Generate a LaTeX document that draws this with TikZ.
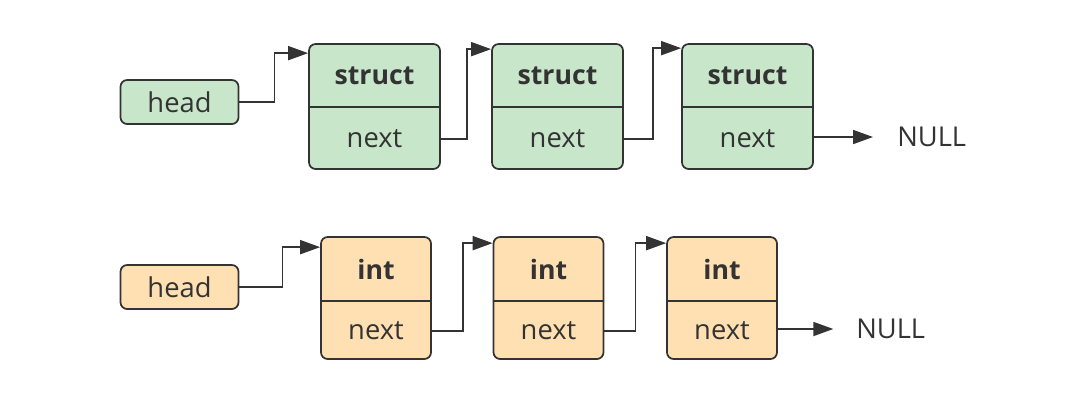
\documentclass[tikz,border=0pt]{standalone}
\usepackage{fontspec}
\setmainfont{Open Sans}
\usetikzlibrary{arrows.meta,calc}
\definecolor{ink}{HTML}{333333}
\definecolor{gfill}{HTML}{C8E6C9}
\definecolor{ofill}{HTML}{FFE0B2}
\begin{document}
\begin{tikzpicture}[x=0.75pt,y=-0.75pt,
  box/.style={draw=ink,line width=1.3pt,rounded corners=5pt,inner sep=0pt},
  headbox/.style={box,minimum width=88.5pt,minimum height=33pt},
  sbox/.style={box,fill=gfill,minimum width=98.25pt,minimum height=93.75pt},
  ibox/.style={box,fill=ofill,minimum width=82.5pt,minimum height=91.5pt},
  lbl/.style={text=ink,font=\fontsize{20.5pt}{24pt}\selectfont,inner sep=0pt},
  blbl/.style={lbl,font=\fontsize{20pt}{24pt}\selectfont\bfseries},
  divider/.style={draw=ink,line width=1.3pt},
  arr/.style={draw=ink,line width=1.3pt,-{Triangle[length=15pt,width=10.5pt]}}
]
\useasboundingbox (0,0) rectangle (1074,412);

% ---------- top row ----------
\node[headbox,fill=gfill] (h1) at (179.5,102) {};
\node[lbl] (h1t) at (179.5,102) {head};

\node[sbox] (s1) at (374.5,106.5) {};
\node[sbox] (s2) at (557.5,106.5) {};
\node[sbox] (s3) at (747.5,106.5) {};
\foreach \n/\x in {s1/374.5,s2/557.5,s3/747.5}{
  \draw[divider] (\n.west |- 0,107) -- (\n.east |- 0,107);
  \node[blbl] (\n t) at (\x,76) {struct};
  \node[lbl] (\n n) at (\x,139) {next};
}
\node[lbl,anchor=west] (null1) at (897,137) {NULL};

\draw[arr] (h1.east) -- ++(35,0) |- ($(s1.north west)+(0,10)$);
\draw[arr] (s1.east |- s1n) -- ++(26,0) |- ($(s2.north west)+(0,6)$);
\draw[arr] (s2.east |- s2n) -- ++(29,0) |- ($(s3.north west)+(0,5)$);
\draw[arr,shorten >=18pt] (s3.east |- null1.west) -- (null1.west);

% ---------- bottom row ----------
\node[headbox,fill=ofill] (h2) at (179.5,287) {};
\node[lbl] (h2t) at (179.5,287) {head};

\node[ibox] (i1) at (376,298) {};
\node[ibox] (i2) at (548.5,298) {};
\node[ibox] (i3) at (722,298) {};
\foreach \n/\x in {i1/376,i2/548.5,i3/722}{
  \draw[divider] (\n.west |- 0,301) -- (\n.east |- 0,301);
  \node[blbl] (\n t) at (\x,269) {int};
  \node[lbl] (\n n) at (\x,331) {next};
}
\node[lbl,anchor=west] (null2) at (856,329) {NULL};

\draw[arr] (h2.east) -- ++(43,0) |- ($(i1.north west)+(0,11)$);
\draw[arr] (i1.east |- i1n) -- ++(31,0) |- ($(i2.north west)+(0,7)$);
\draw[arr] (i2.east |- i2n) -- ++(31,0) |- ($(i3.north west)+(0,7)$);
\draw[arr,shorten >=17pt] (i3.east |- null2.west) -- (null2.west);
\end{tikzpicture}
\end{document}
